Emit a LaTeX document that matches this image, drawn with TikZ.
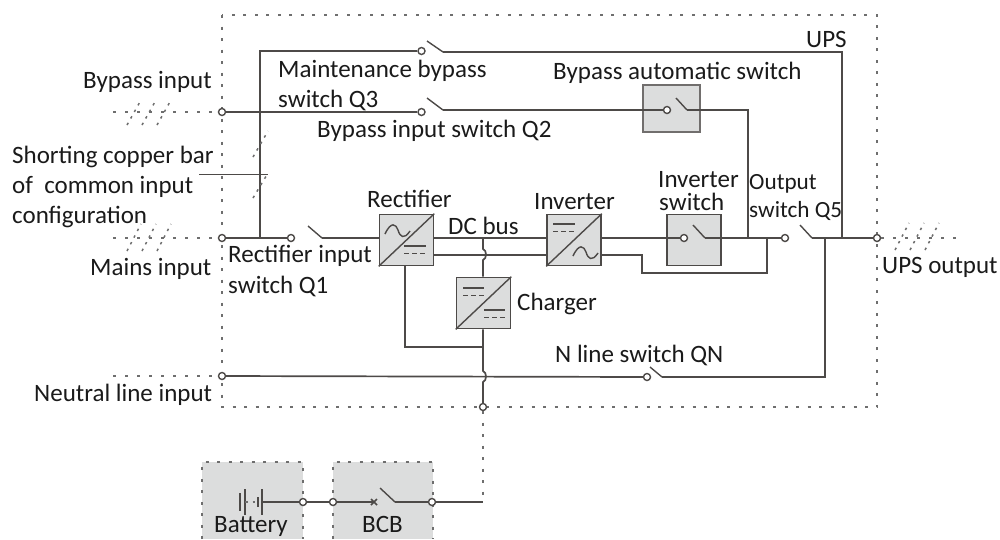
\documentclass[tikz,border=0pt]{standalone}
\usepackage{fontspec}
\setmainfont{Carlito}
\definecolor{wire}{HTML}{4D4A48}
\definecolor{panel}{HTML}{DCDDDD}
\definecolor{dots}{HTML}{6E6E6E}
\definecolor{ink}{HTML}{1A1A1A}
\tikzset{
  wireline/.style={draw=wire,line width=1.7pt},
  blade/.style={draw=wire,line width=1.4pt},
  term/.style={circle,draw=wire,fill=white,line width=1.4pt,minimum size=7pt,inner sep=0pt},
  convbox/.style={rectangle,draw=wire,fill=panel,line width=1.7pt,minimum width=54pt,minimum height=51pt,inner sep=0pt},
  swbox/.style={rectangle,draw=wire!80,fill=panel,line width=1.2pt,inner sep=0pt},
  dotline/.style={draw=dots,line width=1.8pt,dash pattern=on 3pt off 8.5pt},
  fineline/.style={draw=dots,line width=1.5pt,dash pattern=on 2.5pt off 5pt},
  lbl/.style={anchor=base west,inner sep=0pt,text=ink,font=\fontsize{25}{25}\selectfont},
  lblsmall/.style={lbl,font=\fontsize{23.2}{23.2}\selectfont},
  barsolid/.style={draw=wire,line width=1.4pt},
  bardash/.style={draw=wire,line width=1.4pt,dash pattern=on 5pt off 3pt},
}
\newcommand{\wave}[2]{\draw[wire,line width=1.4pt] (#1,#2) .. controls (#1+6,#2-13) and (#1+11,#2-10) .. (#1+13,#2-4) .. controls (#1+15,#2+3) and (#1+19,#2+6) .. (#1+25,#2-3);}
\newcommand{\dcbars}[3]{\draw[barsolid] (#1,#3) -- (#2,#3); \draw[bardash] (#1,#3+7.5) -- (#2,#3+7.5);}
\begin{document}
\begin{tikzpicture}[x=1pt,y=-1pt]
\useasboundingbox (0,0) rectangle (1000,539);
% enclosure
\draw[dotline] (222,15) rectangle (877,407);
% battery and BCB panels
\fill[panel] (202,462) rectangle (303,539);
\fill[panel] (333,462) rectangle (433,539);
\draw[dotline] (202,539) -- (202,462) -- (303,462) -- (303,539);
\draw[dotline] (333,539) -- (333,462) -- (433,462) -- (433,539);
% boxes
\node[convbox] (rect) at (406.5,240) {};
\node[convbox] (inv) at (574,240) {};
\node[convbox] (chg) at (483.5,303) {};
\node[convbox] (invsw) at (694,240) {};
\node[swbox,minimum width=57pt,minimum height=47pt] (bysw) at (671.5,108.5) {};
% terminals
\node[term] (tby) at (222,112) {};
\node[term] (tma) at (222,238) {};
\node[term] (tne) at (222,376) {};
\node[term] (tq1) at (291,238) {};
\node[term] (tq2) at (421.5,112) {};
\node[term] (tq3) at (421.5,51) {};
\node[term] (tba) at (667,110) {};
\node[term] (tis) at (684,238) {};
\node[term] (tq5) at (785,238) {};
\node[term] (tup) at (877,238) {};
\node[term] (tqn) at (647,377) {};
\node[term] (tdc) at (483,407) {};
\node[term] (tb1) at (303,502) {};
\node[term] (tb2) at (333,502) {};
\node[term] (tb3) at (432,502) {};
% blade hinges and corners
\coordinate (q1h) at (322,238);
\coordinate (q2h) at (443,110);
\coordinate (q3h) at (443,52);
\coordinate (bah) at (687,110);
\coordinate (ish) at (705,238);
\coordinate (q5h) at (812,238);
\coordinate (qnh) at (662,377);
\coordinate (bch) at (395,502);
\coordinate (bcx) at (374,502);
\coordinate (topl) at (260,51);
\coordinate (vby) at (260,112);
\coordinate (vma) at (260,238);
\coordinate (bj) at (748,110);
\coordinate (bd) at (748,238);
\coordinate (ttop) at (842,52);
\coordinate (td) at (842,238);
\coordinate (nd) at (825,238);
\coordinate (nc) at (825,377);
\coordinate (l1) at (642,255);
\coordinate (l2) at (642,273);
\coordinate (l3) at (767,273);
\coordinate (l4) at (767,238);
\coordinate (r1) at (405,347);
\coordinate (r2) at (483,347);
\coordinate (dca) at (483,238);
\coordinate (bcend) at (483,502);
% blades
\draw[blade] (308,226) -- (q1h);
\draw[blade] (427,98) -- (q2h);
\draw[blade] (427,41) -- (q3h);
\draw[blade] (676,98) -- (bah);
\draw[blade] (693,225) -- (ish);
\draw[blade] (800,225) -- (q5h);
\draw[blade] (650,367) -- (qnh);
\draw[blade] (380,488) -- (bch);
% connectors
\draw[wireline] (tby) -- (tq2);
\draw[wireline] (tma) -- (tq1);
\draw[wireline] (tq3) -- (topl) -- (vma);
\draw[wireline] (q1h) -- (rect.west |- q1h);
\draw[wireline] (q2h) -- (tba);
\draw[wireline] (q3h) -- (ttop) -- (td);
\draw[wireline] (bah) -- (bj) -- (bd);
\draw[wireline] (rect.east |- dca) -- (inv.west |- dca);
\draw[wireline] (433.5,255) -- (547,255);
\draw[wireline] (inv.east |- dca) -- (tis);
\draw[wireline] (ish) -- (tq5);
\draw[wireline] (601,255) -- (l1) -- (l2) -- (l3) -- (l4);
\draw[wireline] (q5h) -- (tup);
\draw[wireline] (nd) -- (nc) -- (qnh);
\draw[wireline] (tne) -- (tqn);
\draw[wireline] (dca) -- (483,249) .. controls (487,250) and (487,259) .. (483,260) -- (chg.north -| dca);
\draw[wireline] (chg.south -| dca) -- (483,371) .. controls (487,372) and (487,381) .. (483,382) -- (tdc);
\draw[wireline] (rect.south -| r1) -- (r1) -- (r2);
\draw[wireline] (tb1) -- (tb2);
\draw[wireline] (tb2) -- (bcx);
\draw[wireline] (bch) -- (tb3);
\draw[wire,line width=1.3pt] (tb3) -- (bcend);
\draw[wire,line width=1.6pt] (371,499) -- (377,505) (377,499) -- (371,505);
% converter diagonals
\draw[wire,line width=1.4pt] (rect.south west) -- (rect.north east);
\draw[wire,line width=1.4pt] (inv.south west) -- (inv.north east);
\draw[wire,line width=1.4pt] (chg.south west) -- (chg.north east);
% converter glyphs
\wave{385}{234}
\dcbars{404}{426}{246}
\dcbars{553}{575}{224}
\wave{573}{256}
\dcbars{463}{484}{288}
\dcbars{484}{505}{310}
% battery
\draw[wire,line width=1.4pt] (240,493) -- (240,511);
\draw[wire,line width=1.8pt] (245,489) -- (245,515);
\draw[fineline] (245,502) -- (258,502);
\draw[wire,line width=1.4pt] (258,497) -- (258,507);
\draw[wire,line width=1.8pt] (262,489) -- (262,515);
\draw[wireline] (262,502) -- (tb1);
% external dotted wires
\draw[dotline] (tdc) -- (bcend);
\draw[fineline,dash pattern=on 3pt off 9pt] (113,112) -- (tby);
\draw[fineline,dash pattern=on 3pt off 9pt] (113,238) -- (tma);
\draw[fineline,dash pattern=on 3pt off 9pt] (113,376) -- (tne);
\draw[fineline,dash pattern=on 3pt off 9pt] (tup) -- (960,238);
\foreach \s in {127,142,157}{
  \draw[fineline] (\s,125) -- (\s+14,100);
  \draw[fineline] (\s,251) -- (\s+14,224);
}
\foreach \s in {895,910,925}{
  \draw[fineline] (\s,250) -- (\s+14,223);
}
\draw[fineline] (253,198) -- (268,173);
\draw[fineline] (253,157) -- (268,131);
\coordinate (leadA) at (199,174);
\coordinate (leadB) at (268,174);
\draw[wire,line width=1pt] (leadA) -- (leadB);
% labels
\node[lbl] (a1) at (83,88) {Bypass input};
\node[lbl] (a2) at (12,163) {Shorting copper bar};
\node[lbl] (a3) at (12,193) {of\ \ common input};
\node[lbl] (a4) at (12,223) {configuration};
\node[lbl] (a5) at (90,275) {Mains input};
\node[lbl] (a6) at (34,401) {Neutral line input};
\node[lbl] (a7) at (278,77) {Maintenance bypass};
\node[lbl] (a8) at (278,107) {switch Q3};
\node[lbl] (a9) at (317,137) {Bypass input switch Q2};
\node[lbl] (a10) at (553,79) {Bypass automatic switch};
\node[lbl] (a11) at (806,47) {UPS};
\node[lbl] (a12) at (367,207) {Rectifier};
\node[lbl] (a13) at (448,234) {DC bus};
\node[lbl] (a14) at (534,209) {Inverter};
\node[lbl] (a15) at (658,187) {Inverter};
\node[lbl] (a16) at (659,210) {switch};
\node[lblsmall] (a17) at (749,189) {Output};
\node[lblsmall] (a18) at (749,217) {switch Q5};
\node[lbl] (a19) at (517,310) {Charger};
\node[lbl] (a20) at (228,262) {Rectifier input};
\node[lbl] (a21) at (228,293) {switch Q1};
\node[lbl] (a22) at (555,362) {N line switch QN};
\node[lbl] (a23) at (882,273) {UPS output};
\node[lbl] (a24) at (214,532) {Battery};
\node[lbl] (a25) at (362,532) {BCB};
\end{tikzpicture}
\end{document}
